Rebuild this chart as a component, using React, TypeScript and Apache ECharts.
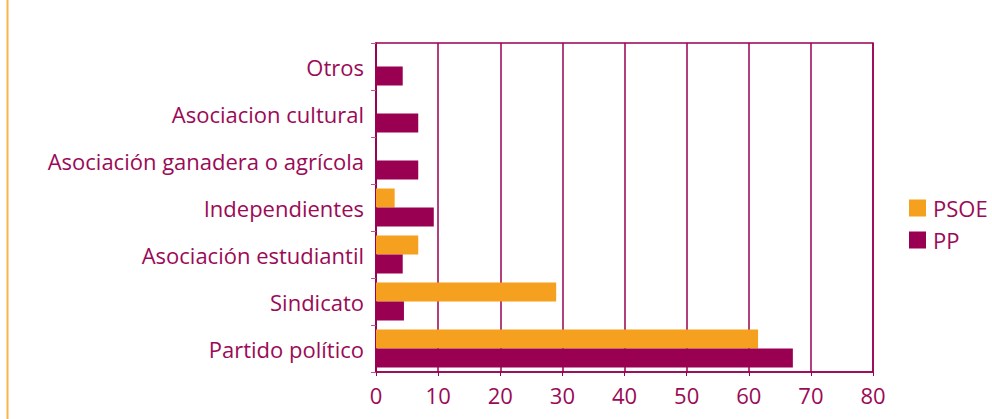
import React, { useEffect, useRef } from "react";
import * as echarts from "echarts";

const categories = [
  "Otros",
  "Asociacion cultural",
  "Asociación ganadera o agrícola",
  "Independientes",
  "Asociación estudiantil",
  "Sindicato",
  "Partido político",
];
const psoeValues = [null, null, null, 3.0, 6.8, 29.0, 61.5];
const ppValues = [4.3, 6.8, 6.8, 9.3, 4.3, 4.5, 67.1];
const xTicks = [0, 10, 20, 30, 40, 50, 60, 70, 80];

const PURPLE = "#990052";
const ORANGE = "#f5a01f";
const TEXT = "#9b0a56";
const FONT = "'Open Sans', 'Noto Sans', sans-serif";

export default function App() {
  const ref = useRef<HTMLDivElement>(null);
  useEffect(() => {
    document.body.style.margin = "0";
    if (!ref.current) return;
    const chart = echarts.init(ref.current, undefined, { renderer: "svg" });
    chart.setOption({
      animation: false,
      backgroundColor: "#ffffff",
      textStyle: { fontFamily: FONT },
      grid: {
        left: 376,
        right: 119,
        top: 43,
        bottom: 47,
        show: true,
        borderColor: PURPLE,
        borderWidth: 1.5,
      },
      legend: {
        orient: "vertical",
        left: 904,
        top: 192,
        itemWidth: 17,
        itemHeight: 17,
        itemGap: 10,
        icon: "rect",
        data: ["PSOE", "PP"],
        textStyle: { color: TEXT, fontSize: 22, fontFamily: FONT, padding: [0, 0, 0, 2] },
      },
      xAxis: {
        type: "value",
        min: xTicks[0],
        max: xTicks[xTicks.length - 1],
        interval: 10,
        axisLine: { show: true, lineStyle: { color: PURPLE, width: 1.5 } },
        axisTick: { show: true, length: 4, lineStyle: { color: PURPLE, width: 1 } },
        axisLabel: { color: TEXT, fontSize: 22, fontFamily: FONT, margin: 12 },
        splitLine: { show: true, lineStyle: { color: PURPLE, width: 1.5 } },
      },
      yAxis: {
        type: "category",
        data: categories,
        inverse: true,
        axisLine: { show: true, lineStyle: { color: PURPLE, width: 1.5 } },
        axisTick: { show: true, length: 5, lineStyle: { color: "#b8568a", width: 1 } },
        axisLabel: { color: TEXT, fontSize: 22, fontFamily: FONT, margin: 12 },
        splitLine: { show: false },
      },
      series: [
        {
          name: "PSOE",
          type: "bar",
          data: psoeValues,
          barWidth: 19,
          barGap: "0%",
          itemStyle: { color: ORANGE },
        },
        {
          name: "PP",
          type: "bar",
          data: ppValues,
          barWidth: 19,
          barGap: "0%",
          itemStyle: { color: PURPLE },
        },
      ],
      graphic: [
        {
          type: "line",
          shape: { x1: 7.5, y1: 0, x2: 7.5, y2: 419 },
          style: { stroke: "#f7b64c", lineWidth: 2 },
        },
      ],
    });
    return () => chart.dispose();
  }, []);
  return <div ref={ref} style={{ width: 992, height: 419 }} />;
}
